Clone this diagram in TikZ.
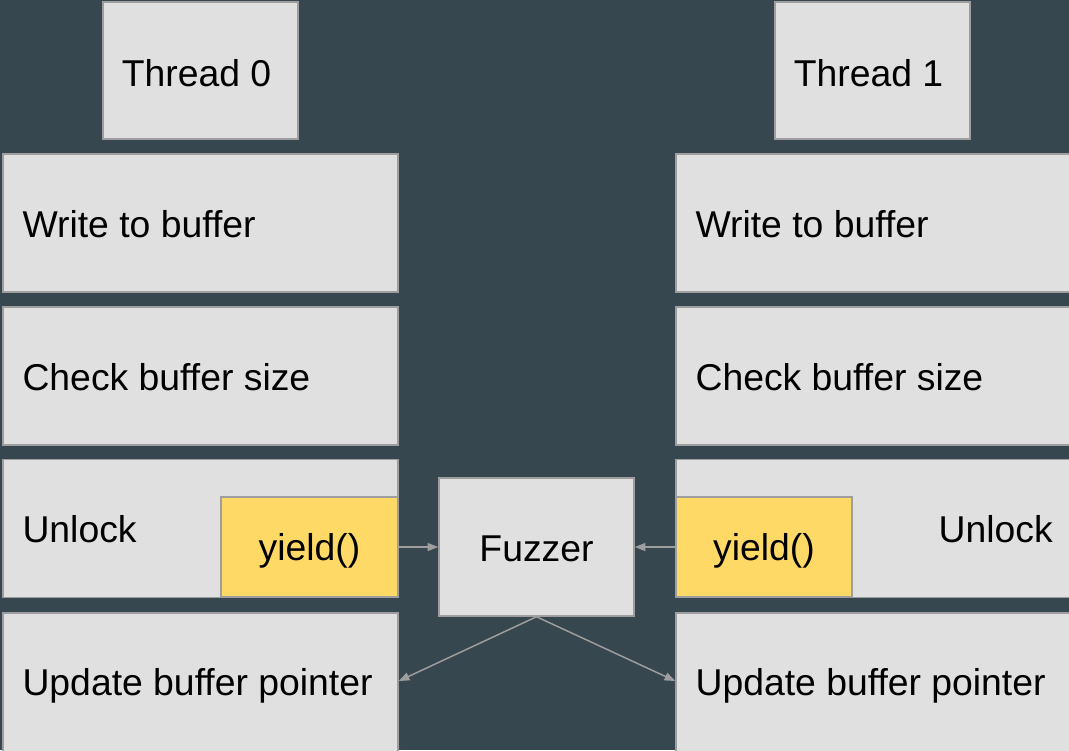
\documentclass[tikz,border=0pt]{standalone}
\usepackage{fontspec}
\setmainfont{Liberation Sans}
\usetikzlibrary{arrows.meta}
\definecolor{bg}{HTML}{37474F}
\definecolor{boxfill}{HTML}{E0E0E0}
\definecolor{boxline}{HTML}{9E9E9E}
\definecolor{yellowbox}{HTML}{FFD966}
\tikzset{
  box/.style={draw=boxline, fill=boxfill, line width=1.1pt, inner sep=0pt},
  ybox/.style={draw=boxline, fill=yellowbox, line width=1.1pt, inner sep=0pt},
  lbl/.style={inner sep=0pt, font=\fontsize{28}{32}\selectfont, text=black},
  conn/.style={draw=boxline, line width=1.1pt, -{Triangle[length=8pt,width=6pt]}},
}
\begin{document}
\begin{tikzpicture}[x=0.75pt,y=-0.75pt]
\useasboundingbox (0,0) rectangle (1069,750);
\fill[bg] (0,0) rectangle (1069,750);
% thread headers
\node[box, minimum width=146.25pt, minimum height=102.75pt] (t0) at (200.5,70.5) {};
\node[box, minimum width=146.25pt, minimum height=102.75pt] (t1) at (872.5,70.5) {};
\node[lbl] (lt0) at ([xshift=-3pt,yshift=-2.25pt]t0.center) {Thread 0};
\node[lbl] (lt1) at ([xshift=-3pt,yshift=-2.25pt]t1.center) {Thread 1};
% left column
\node[box, minimum width=296.25pt, minimum height=103.5pt] (w0) at (200.5,223) {};
\node[box, minimum width=296.25pt, minimum height=103.5pt] (c0) at (200.5,376) {};
\node[box, minimum width=296.25pt, minimum height=103.5pt] (k0) at (200.5,528.5) {};
\node[box, minimum width=296.25pt, minimum height=106.5pt] (u0) at (200.5,684) {};
% right column
\node[box, minimum width=296.25pt, minimum height=103.5pt] (w1) at (873.5,223) {};
\node[box, minimum width=296.25pt, minimum height=103.5pt] (c1) at (873.5,376) {};
\node[box, minimum width=296.25pt, minimum height=103.5pt] (k1) at (873.5,528.5) {};
\node[box, minimum width=296.25pt, minimum height=106.5pt] (u1) at (873.5,684) {};
% labels
\node[lbl, anchor=west] (lw0) at ([xshift=15pt,yshift=-0.75pt]w0.west) {Write to buffer};
\node[lbl, anchor=west] (lc0) at ([xshift=15pt,yshift=-0.75pt]c0.west) {Check buffer size};
\node[lbl, anchor=west] (lk0) at ([xshift=15pt,yshift=-0.75pt]k0.west) {Unlock};
\node[lbl, anchor=west] (lu0) at ([xshift=15pt,yshift=-1.5pt]u0.west) {Update buffer pointer};
\node[lbl, anchor=west] (lw1) at ([xshift=15pt,yshift=-0.75pt]w1.west) {Write to buffer};
\node[lbl, anchor=west] (lc1) at ([xshift=15pt,yshift=-0.75pt]c1.west) {Check buffer size};
\node[lbl, anchor=east] (lk1) at ([xshift=-14pt,yshift=-0.75pt]k1.east) {Unlock};
\node[lbl, anchor=west] (lu1) at ([xshift=15pt,yshift=-1.5pt]u1.west) {Update buffer pointer};
% yield boxes
\node[ybox, minimum width=132.75pt, minimum height=75pt] (y0) at (309.5,547) {};
\node[ybox, minimum width=132pt, minimum height=75pt] (y1) at (764,547) {};
\node[lbl] (ly0) at ([yshift=-3pt]y0.center) {yield()};
\node[lbl] (ly1) at ([yshift=-3pt]y1.center) {yield()};
% fuzzer
\node[box, minimum width=146.25pt, minimum height=103.5pt] (fz) at (536.5,547) {};
\node[lbl] (lfz) at ([yshift=-1.5pt]fz.center) {Fuzzer};
% connectors
\draw[conn] (y0.east) -- (fz.west);
\draw[conn] (y1.west) -- (fz.east);
\draw[conn] (fz.south) -- ([yshift=2.25pt]u0.east);
\draw[conn] (fz.south) -- ([yshift=2.25pt]u1.west);
\end{tikzpicture}
\end{document}
